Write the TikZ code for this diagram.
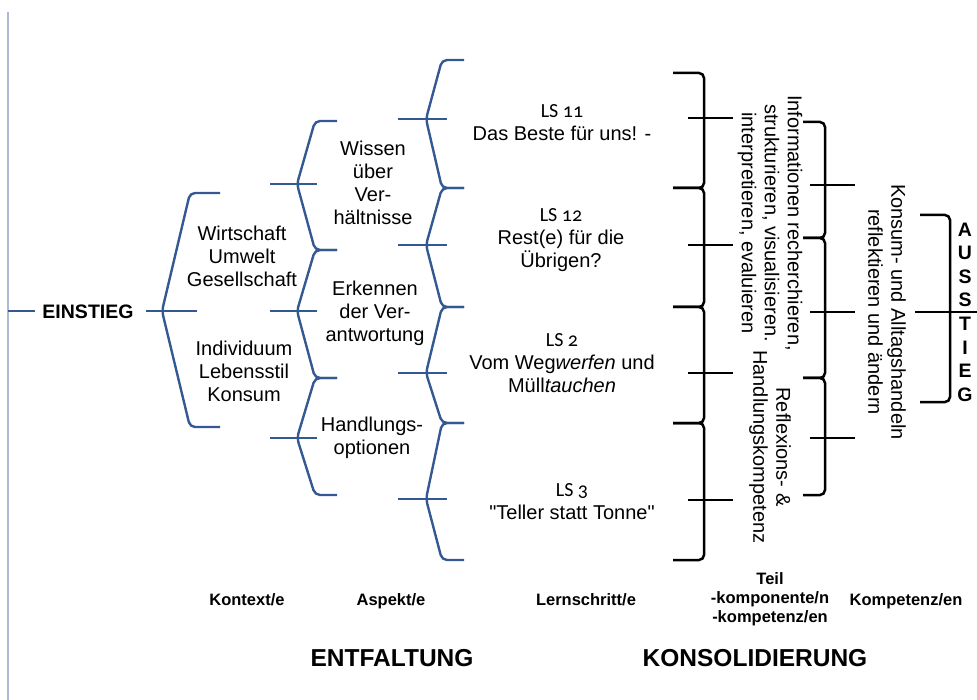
\documentclass[tikz,border=0pt]{standalone}
\usepackage{fontspec}
\setmainfont{Liberation Sans}[Ligatures=TeXOff]
\newfontfamily\lsfont[Numbers=OldStyle]{Carlito}
\definecolor{braceblue}{RGB}{52,88,146}
\definecolor{edgeblue}{RGB}{170,186,210}

\begin{document}
\begin{tikzpicture}[x=1pt, y=-1pt,
    bluebrace/.style={draw=braceblue, line width=2.4pt, rounded corners=5pt},
    blackbrace/.style={draw=black, line width=2.5pt, rounded corners=5pt},
    txt/.style={align=center, inner sep=0pt, font=\fontsize{20}{23}\selectfont},
    lbl/.style={align=center, inner sep=0pt, font=\bfseries\fontsize{16.5}{19}\selectfont},
    phase/.style={inner sep=0pt, font=\bfseries\fontsize{24.5}{28}\selectfont}]
    \useasboundingbox (0,0) rectangle (977,700);
    \draw[edgeblue, line width=1.5pt] (8,12) -- (8,700);

    % Einstieg
    \node[inner xsep=7pt, inner ysep=0pt, font=\bfseries\fontsize{19.5}{22}\selectfont]
      (einstieg) at (88,312) {EINSTIEG};
    \coordinate (edge) at (8,311);
    \coordinate (tickA) at (197,311);
    \draw[bluebrace] (edge) -- (einstieg.west |- edge);
    \draw[bluebrace] ([xshift=5pt]einstieg.east |- edge) -- (tickA);
    \draw[bluebrace] (220,193) -- (190,193) -- (162,311) -- (190,427) -- (220,427);

    % Kontexte
    \node[txt] (kontextA) at (242,256) {Wirtschaft\\Umwelt\\Gesellschaft};
    \node[txt] (kontextB) at (244,371) {Individuum\\Lebensstil\\Konsum};

    % Aspekte
    \foreach \t/\m/\b in {121/184/250, 250/311/378, 378/438/495} {
      \draw[bluebrace] (337,\t) -- (315,\t) -- (297,\m) -- (315,\b) -- (337,\b);
      \draw[bluebrace] (270,\m) -- (317,\m);
    }
    \node[txt] (aspektA) at (373,183) {Wissen\\über\\Ver-\\hältnisse};
    \node[txt] (aspektB) at (375,313) {Erkennen\\der Ver-\\antwortung};
    \node[txt] (aspektC) at (372,438) {Handlungs-\\optionen};

    % Lernschritte
    \foreach \t/\m/\b in {60/119/188, 188/245/307, 307/373/423, 423/499/560} {
      \draw[bluebrace] (464,\t) -- (442,\t) -- (426,\m) -- (442,\b) -- (464,\b);
      \draw[bluebrace] (398,\m) -- (447,\m);
    }
    \node[txt] (ls11) at (562,123) {{\lsfont LS 11}\\Das Beste für uns! -};
    \node[txt] (ls12) at (561,240) {{\lsfont LS 12}\\Rest(e) für die\\Übrigen?};
    \node[txt] (ls2) at (562,363) {{\lsfont LS 2}\\Vom Weg\textit{werfen} und\\Müll\textit{tauchen}};
    \node[txt] (ls3) at (572,502) {{\lsfont LS 3}\\"Teller statt Tonne"};

    % Teilkompetenzen
    \foreach \t/\m/\b in {73/118/188, 188/245/307, 307/373/423, 423/500/560} {
      \draw[blackbrace] (673,\t) -- (704,\t) -- (704,\b) -- (673,\b);
      \draw[blackbrace] (688,\m) -- (733,\m);
    }
    \node[txt, rotate=-90] (info) at (770,223)
      {Informationen recherchieren,\\strukturieren, visualisieren.\\interpretieren, evaluieren};
    \node[txt, rotate=-90] (reflex) at (770,447) {Reflexions- \&\\Handlungskompetenz};

    % Kompetenz
    \foreach \t/\m/\b in {122/185/238, 238/312/378, 378/438/495} {
      \draw[blackbrace] (803,\t) -- (825,\t) -- (825,\b) -- (803,\b);
      \draw[blackbrace] (810,\m) -- (855,\m);
    }
    \node[txt, rotate=-90] (konsum) at (887,312) {Konsum- und Alltagshandeln\\reflektieren und ändern};

    % Ausstieg
    \draw[blackbrace] (920,215) -- (950,215) -- (950,402) -- (920,402);
    \draw[blackbrace] (915,312) -- (977,312);
    \node[align=center, inner sep=0pt, font=\bfseries\fontsize{19.5}{23.6}\selectfont]
      (ausstieg) at (965,312) {A\\U\\S\\S\\T\\I\\E\\G};

    % Beschriftung
    \node[lbl, anchor=base] (kontext) at (247,605) {Kontext/e};
    \node[lbl, anchor=base] (aspekt) at (391,605) {Aspekt/e};
    \node[lbl, anchor=base] (lernschritt) at (586,605) {Lernschritt/e};
    \node[lbl] (teil) at (770,599) {Teil\\-komponente/n\\-kompetenz/en};
    \node[lbl, anchor=base] (kompetenz) at (906,605) {Kompetenz/en};
    \node[phase, anchor=base] (entfaltung) at (392,666) {ENTFALTUNG};
    \node[phase, anchor=base] (konsolidierung) at (755,666) {KONSOLIDIERUNG};
  \end{tikzpicture}
\end{document}
